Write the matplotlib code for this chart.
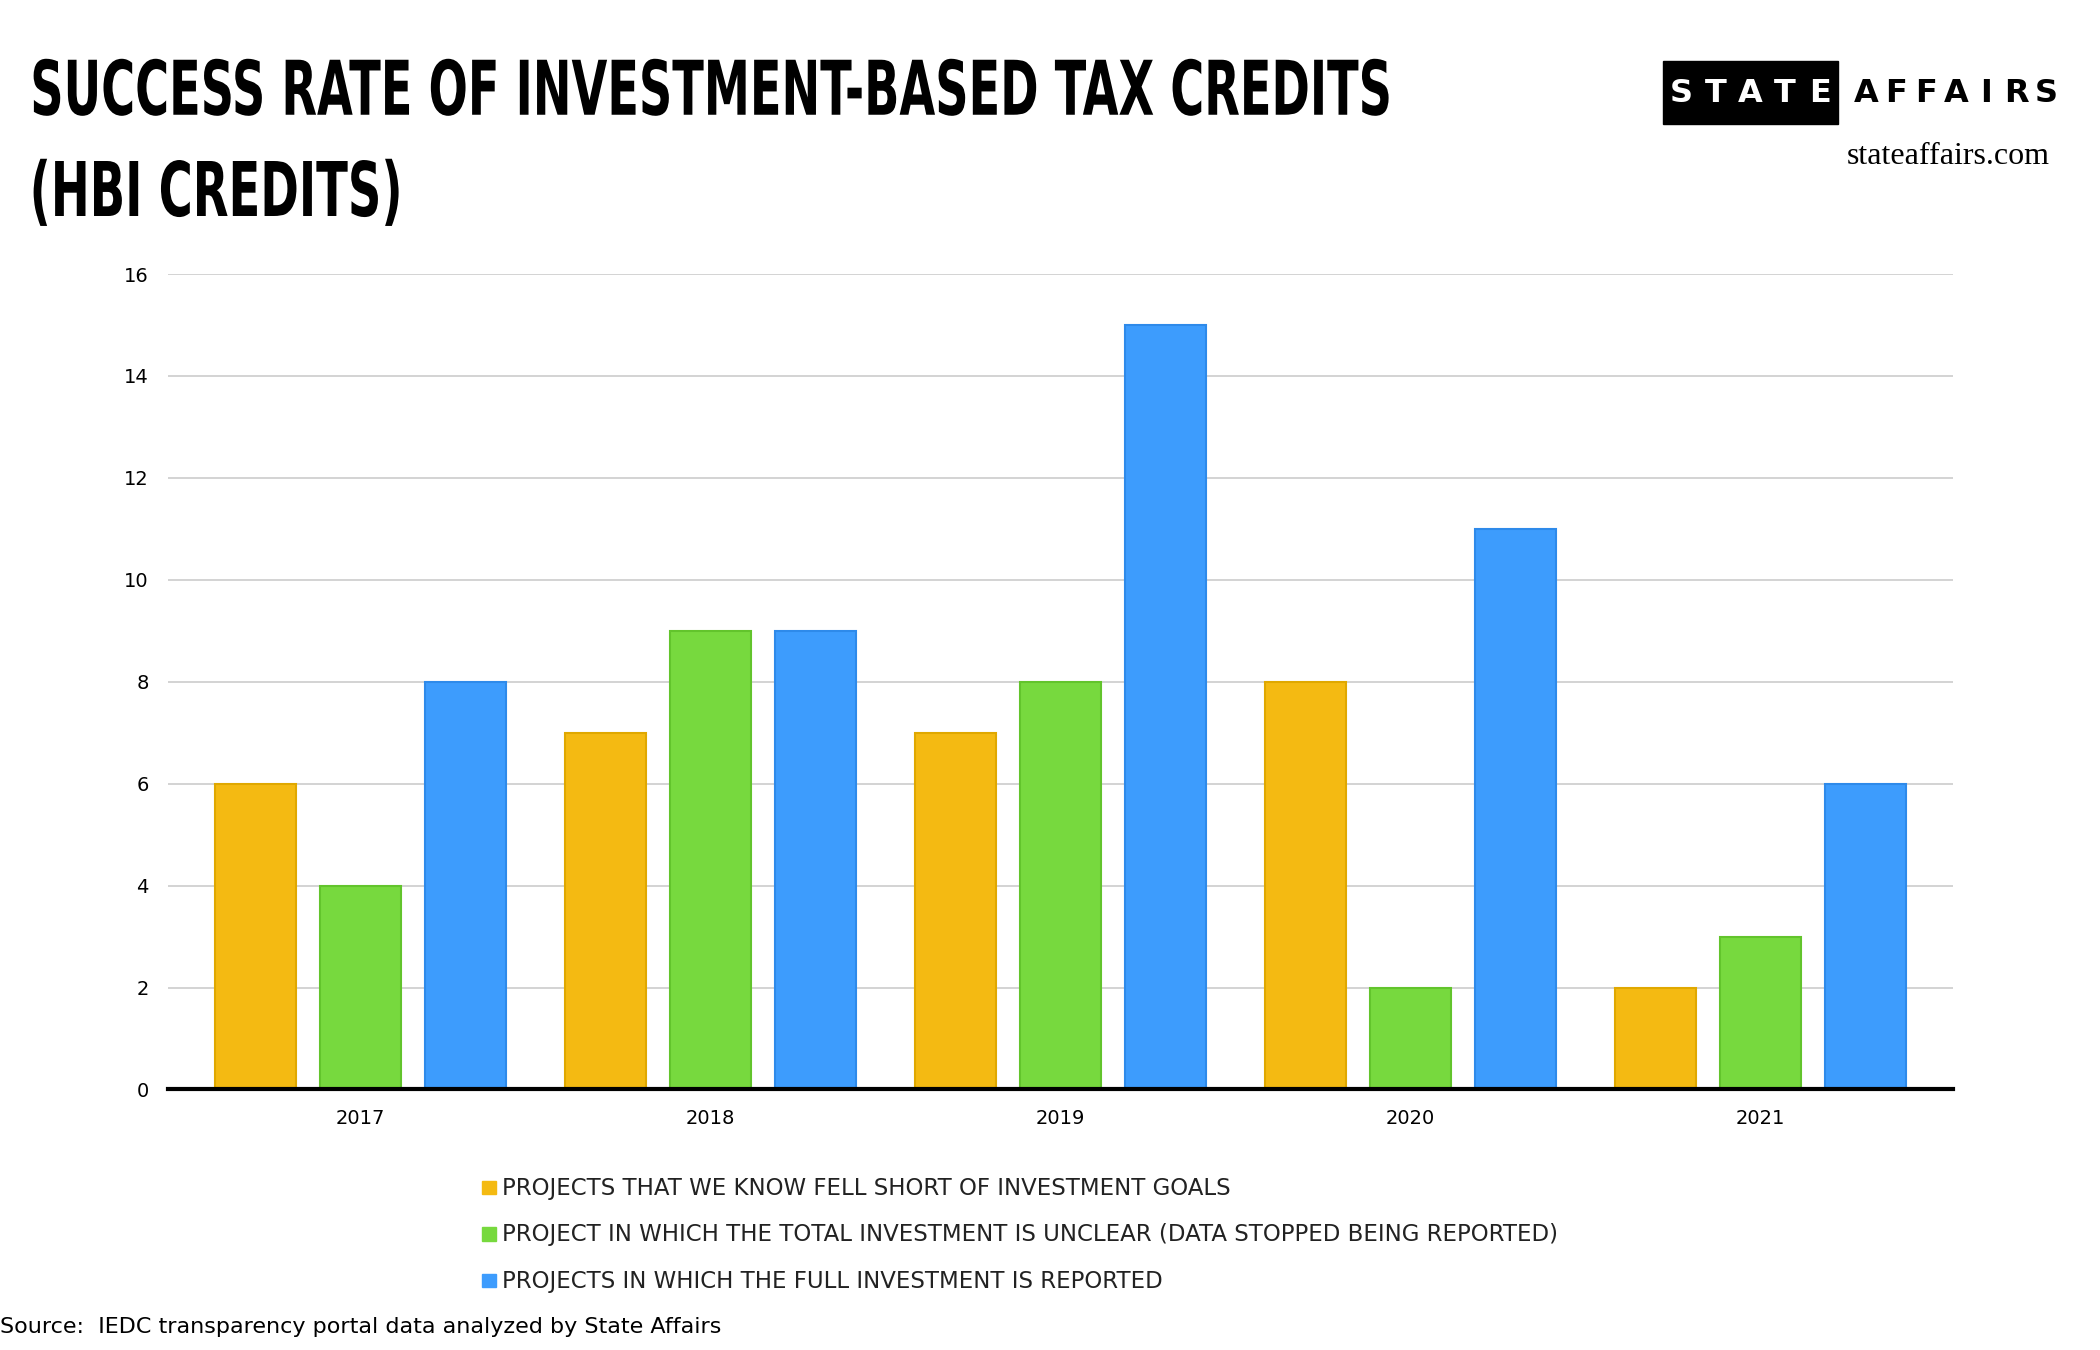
import matplotlib.pyplot as plt
import numpy as np
from matplotlib.patches import Rectangle, PathPatch
from matplotlib.textpath import TextPath
from matplotlib.font_manager import FontProperties
from matplotlib.transforms import Affine2D, IdentityTransform

years = ['2017', '2018', '2019', '2020', '2021']
fell_short = [6, 7, 7, 8, 2]
unclear = [4, 9, 8, 2, 3]
full_reported = [8, 9, 15, 11, 6]
series_labels = [
    'PROJECTS THAT WE KNOW FELL SHORT OF INVESTMENT GOALS',
    'PROJECT IN WHICH THE TOTAL INVESTMENT IS UNCLEAR (DATA STOPPED BEING REPORTED)',
    'PROJECTS IN WHICH THE FULL INVESTMENT IS REPORTED',
]
colors = ['#F4BA12', '#77D93E', '#3D9CFD']
edges = ['#E0A800', '#62C42C', '#2E8AEA']

W, H = 2100, 1350
fig = plt.figure(figsize=(21, 13.5), dpi=100)
ax = fig.add_axes([0.08, 0.193, 0.85, 0.604])

x = np.arange(len(years))
w = 0.23
for i, vals in enumerate([fell_short, unclear, full_reported]):
    ax.bar(x + (i - 1) * 0.3, vals, w, color=colors[i], edgecolor=edges[i], linewidth=1.5, zorder=3)

ax.set_ylim(0, 16)
ax.set_xlim(-0.55, 4.55)
ax.set_yticks(range(0, 17, 2))
ax.set_xticks(x)
ax.set_xticklabels(years)
ax.tick_params(length=0, labelsize=14, pad=14)
ax.grid(axis='y', color='#CCCCCC', linewidth=1.2, zorder=0)
for s in ['top', 'right', 'left']:
    ax.spines[s].set_visible(False)
ax.spines['bottom'].set_linewidth(3)
ax.spines['bottom'].set_zorder(4)


def squeezed_text(s, x0, y0, width, cap, weight='bold', color='black'):
    # draw text as a path, stretched to a given pixel width and cap height
    tp = TextPath((0, 0), s, size=100, prop=FontProperties(family='DejaVu Sans', weight=weight))
    ref = TextPath((0, 0), 'H', size=100, prop=FontProperties(family='DejaVu Sans', weight=weight))
    ext = tp.get_extents()
    sy = cap / ref.get_extents().height
    sx = width / ext.width
    t = Affine2D().translate(-ext.x0, 0).scale(sx, sy).translate(x0, y0)
    fig.patches.append(PathPatch(t.transform_path(tp), color=color, lw=0, transform=IdentityTransform()))


# title (pixel coords from bottom)
squeezed_text('SUCCESS RATE OF INVESTMENT-BASED TAX CREDITS', 0.016 * W, H * (1 - 0.085), 1355, 55)
squeezed_text('(HBI CREDITS)', 0.016 * W, H * (1 - 0.160), 365, 55)

# logo
fig.patches.append(Rectangle((0.792, 0.908), 0.083, 0.047, transform=fig.transFigure, color='black'))
for i, ch in enumerate('STATE'):
    fig.text(0.8005 + i * 0.0165, 0.931, ch, color='white', fontsize=23, fontweight='bold', ha='center', va='center')
for i, ch in enumerate('AFFAIRS'):
    fig.text(0.8885 + i * 0.0143, 0.931, ch, color='black', fontsize=23, fontweight='bold', ha='center', va='center')
fig.text(0.976, 0.884, 'stateaffairs.com', family='Liberation Serif', fontsize=23, ha='right', va='center')

for i, (lab, c) in enumerate(zip(series_labels, colors)):
    y = 0.120 - i * 0.0345
    fig.patches.append(Rectangle((0.2295, y - 0.0045), 0.0065, 0.010, transform=fig.transFigure, color=c))
    fig.text(0.239, y, lab, fontsize=16.5, va='center', color='#222222')

fig.text(0.0, 0.017, 'Source:  IEDC transparency portal data analyzed by State Affairs', fontsize=16, va='center')

fig.savefig('out.png', dpi=100, facecolor='white')
